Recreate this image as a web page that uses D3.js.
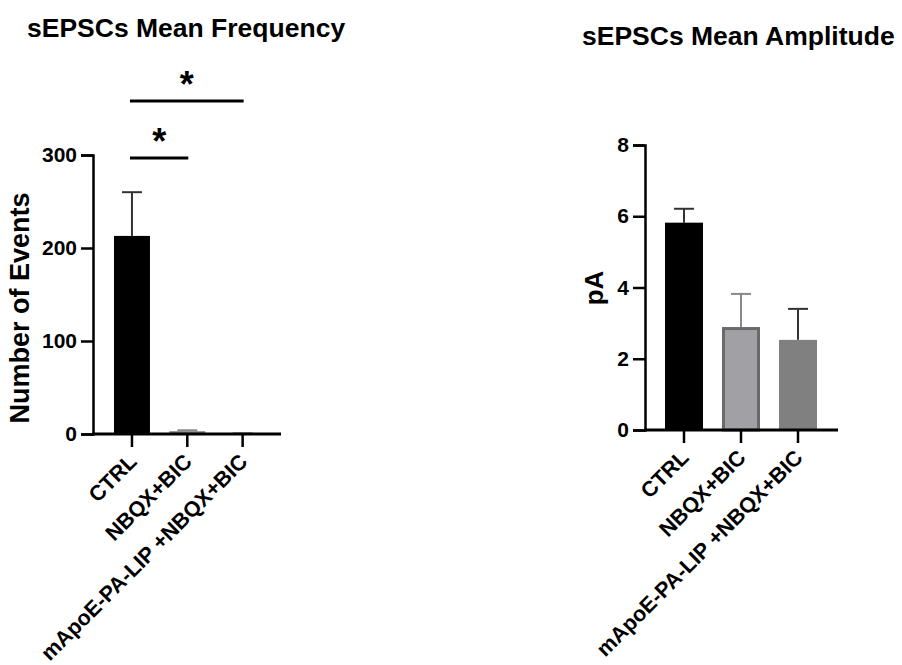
<!DOCTYPE html>
<html>
<head>
<meta charset="utf-8">
<script src="https://cdn.jsdelivr.net/npm/d3@7"></script>
<style>
  body { margin: 0; background: #fff; }
  svg text { font-family: 'Liberation Sans', Arial, sans-serif; font-weight: bold; fill: #000; }
</style>
</head>
<body>
<svg id="chart" width="902" height="665"></svg>
<script>
// categories (same for both panels)
const categories = ['CTRL', 'NBQX+BIC', 'mApoE-PA-LIP +NBQX+BIC']

// sEPSCs mean frequency (number of events), mean and SEM
const freqMean = [213, 3, 0.8]
const freqErr = [47, 1, 0.3]
const freqTicks = [0, 100, 200, 300]

// sEPSCs mean amplitude (pA), mean and SEM
const ampMean = [5.82, 2.89, 2.53]
const ampErr = [0.39, 0.93, 0.87]
const ampTicks = [0, 2, 4, 6, 8]

// significance brackets on the frequency panel
const sigPairs = [['CTRL', 'NBQX+BIC'], ['CTRL', 'mApoE-PA-LIP +NBQX+BIC']]

const svg = d3.select('#chart')

function panel(opts) {
  const g = svg.append('g')
  const x = d3.scaleBand()
    .domain(categories)
    .range(opts.xRange)
    .paddingInner(opts.pad)
    .paddingOuter(opts.pad / 2)
  const y = d3.scaleLinear().domain(opts.yDomain).range(opts.yRange)
  const data = categories.map((c, i) => ({ cat: c, mean: opts.mean[i], err: opts.err[i], i }))

  // bars
  g.selectAll('rect.bar')
    .data(data)
    .enter()
    .append('rect')
    .attr('class', 'bar')
    .attr('x', d => x(d.cat) + (opts.stroke[d.i] ? 1.5 : 0))
    .attr('width', d => x.bandwidth() - (opts.stroke[d.i] ? 3 : 0))
    .attr('y', d => y(d.mean) + (opts.stroke[d.i] ? 1.5 : 0))
    .attr('height', d => Math.max(0, y(0) - y(d.mean) - (opts.stroke[d.i] ? 1.5 : 0)))
    .attr('fill', d => opts.fill[d.i])
    .attr('stroke', d => opts.stroke[d.i] || 'none')
    .attr('stroke-width', 3)

  // error bars (upper only)
  const eb = g.selectAll('g.err')
    .data(data)
    .enter()
    .append('g')
    .attr('class', 'err')
    .attr('stroke', d => opts.errColor[d.i])
    .attr('stroke-width', 2)
  eb.append('line')
    .attr('x1', d => x(d.cat) + x.bandwidth() / 2)
    .attr('x2', d => x(d.cat) + x.bandwidth() / 2)
    .attr('y1', d => y(d.mean))
    .attr('y2', d => y(d.mean + d.err))
  eb.append('line')
    .attr('x1', d => x(d.cat) + x.bandwidth() / 2 - 10)
    .attr('x2', d => x(d.cat) + x.bandwidth() / 2 + 10)
    .attr('y1', d => y(d.mean + d.err))
    .attr('y2', d => y(d.mean + d.err))

  // y axis
  const yAxis = g.append('g')
    .attr('transform', `translate(${opts.axisX},0)`)
    .call(d3.axisLeft(y).tickValues(opts.ticks).tickSize(12).tickPadding(4))
  yAxis.select('.domain').attr('stroke-width', 2.5)
  yAxis.selectAll('.tick line').attr('stroke-width', 2.5)
  yAxis.selectAll('.tick text').attr('font-size', 21).attr('fill', '#000')

  // x axis
  const xAxis = g.append('g')
    .attr('transform', `translate(0,${y(0)})`)
  xAxis.append('line')
    .attr('x1', opts.axisX - 1)
    .attr('x2', opts.xEnd)
    .attr('stroke', '#000')
    .attr('stroke-width', 3)
  const xt = xAxis.selectAll('g.xt')
    .data(categories)
    .enter()
    .append('g')
    .attr('class', 'xt')
    .attr('transform', d => `translate(${x(d) + x.bandwidth() / 2},0)`)
  xt.append('line')
    .attr('y1', 0)
    .attr('y2', 13)
    .attr('stroke', '#000')
    .attr('stroke-width', 2.5)
  xt.append('text')
    .attr('transform', 'translate(6,29) rotate(-45)')
    .attr('text-anchor', 'end')
    .attr('font-size', 21.5)
    .text(d => d)

  // axis title
  g.append('text')
    .attr('transform', `translate(${opts.labelX},${opts.labelY}) rotate(-90)`)
    .attr('text-anchor', 'middle')
    .attr('font-size', opts.labelSize)
    .text(opts.label)

  // panel title
  g.append('text')
    .attr('x', opts.titleX)
    .attr('y', opts.titleY)
    .attr('font-size', 26.5)
    .text(opts.title)

  return { g, x, y }
}

const freq = panel({
  xRange: [104.3, 270.3], pad: 0.35, axisX: 93, xEnd: 281,
  yDomain: [0, 300], yRange: [434, 155], ticks: freqTicks,
  mean: freqMean, err: freqErr,
  fill: ['#000', '#7f7f7f', '#b4b4b4'], stroke: [null, null, null],
  errColor: ['#333', '#888', '#aaa'],
  label: 'Number of Events', labelX: 29, labelY: 308, labelSize: 27,
  title: 'sEPSCs Mean Frequency', titleX: 27, titleY: 37
})

panel({
  xRange: [655.5, 826.5], pad: 0.333, axisX: 645, xEnd: 838,
  yDomain: [0, 8], yRange: [430, 145], ticks: ampTicks,
  mean: ampMean, err: ampErr,
  fill: ['#000', '#a1a1a5', '#808080'], stroke: [null, '#6a6a6a', null],
  errColor: ['#333', '#888', '#333'],
  label: 'pA', labelX: 603, labelY: 288, labelSize: 26,
  title: 'sEPSCs Mean Amplitude', titleX: 582, titleY: 45
})

// significance brackets
const sigY = [158, 101]
sigPairs.forEach((p, i) => {
  const x1 = freq.x(p[0]) + freq.x.bandwidth() / 2 - 2
  const x2 = freq.x(p[1]) + freq.x.bandwidth() / 2 + 1
  freq.g.append('line')
    .attr('x1', x1).attr('x2', x2)
    .attr('y1', sigY[i]).attr('y2', sigY[i])
    .attr('stroke', '#000')
    .attr('stroke-width', 3)
  freq.g.append('text')
    .attr('x', (x1 + x2) / 2)
    .attr('y', sigY[i] - 4)
    .attr('text-anchor', 'middle')
    .attr('font-size', 36)
    .text('*')
})
</script>
</body>
</html>
